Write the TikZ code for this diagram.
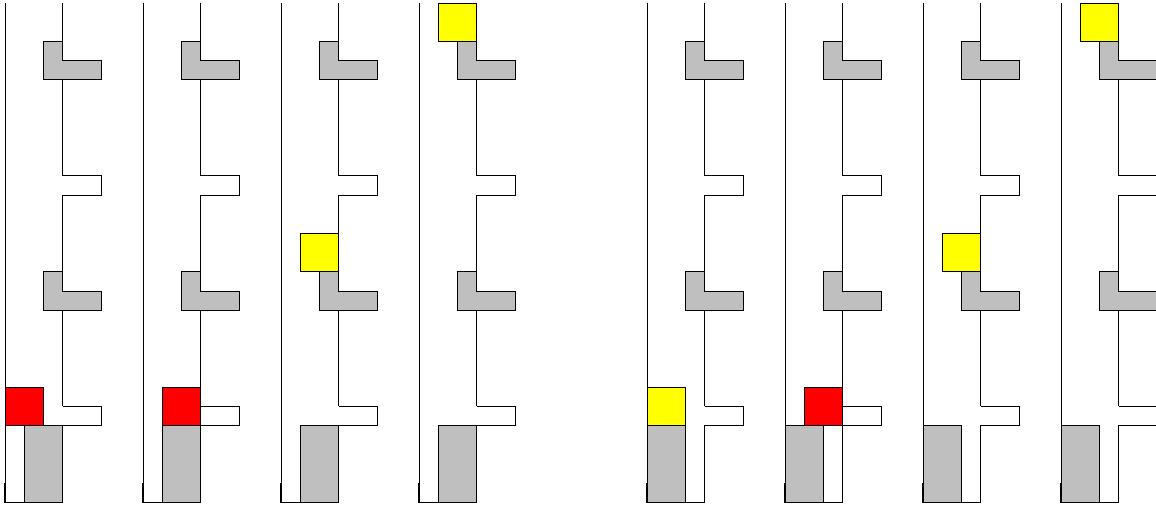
\documentclass[tikz,border=0pt]{standalone}
\usepackage{xcolor}
\definecolor{headyellow}{RGB}{255,255,0}
\definecolor{headred}{RGB}{255,0,0}
\begin{document}
\begin{tikzpicture}[x=5mm,y=5mm,
    wall/.style={draw=black,line width=0.7pt},
    lump/.style={wall,fill=black!25},
    head/.style={wall,fill=#1}]
    \useasboundingbox (-0.26,0.156) rectangle (59.945,-26.198);
    \foreach \x/\hx/\hy/\hc/\bx in {0/0/-22/headred/1,7.1875/1/-22/headred/1,14.375/1/-14/headyellow/1,21.5625/1/-2/headyellow/1,
        33.4375/0/-22/headyellow/0,40.625/1/-22/headred/0,47.8125/1/-14/headyellow/0,55/1/-2/headyellow/0}{
      \begin{scope}[shift={(\x,0)}]
        % walls, one unit at a time
        \foreach \y in {1,...,25}
          \draw[wall] (0,1-\y) -- (0,-\y);
        \foreach \y in {1,2,3,5,6,7,8,9,11,12,13,14,15,17,18,19,20,21,23,24,25}
          \draw[wall] (3,1-\y) -- (3,-\y);
        \draw[wall,line width=1pt] (0,-25) -- (0,-26) -- (3,-26) -- (3,-25);
        % side pockets
        \foreach \y in {-9,-21}
          \draw[wall] (3,\y) -- (5,\y) -- (5,\y-1) -- (3,\y-1);
        % lumps in the upper pockets
        \foreach \y in {-2,-14}
          \draw[lump] (2,\y) -- (3,\y) -- (3,\y-1) -- (5,\y-1) -- (5,\y-2) -- (2,\y-2) -- cycle;
        \draw[lump] (\bx,-22) rectangle ++(2,-4);
        \draw[head=\hc] (\hx,\hy) rectangle ++(2,2);
      \end{scope}
    }
\end{tikzpicture}
\end{document}
